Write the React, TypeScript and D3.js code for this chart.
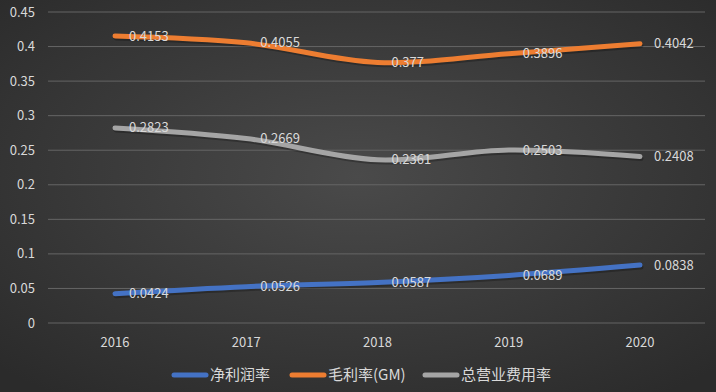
import React, { useEffect, useRef } from 'react';
import * as d3 from 'd3';

const years = ['2016', '2017', '2018', '2019', '2020'];
const netMargin = [0.0424, 0.0526, 0.0587, 0.0689, 0.0838];
const grossMargin = [0.4153, 0.4055, 0.377, 0.3896, 0.4042];
const opexRate = [0.2823, 0.2669, 0.2361, 0.2503, 0.2408];
const yTicks = [0, 0.05, 0.1, 0.15, 0.2, 0.25, 0.3, 0.35, 0.4, 0.45];

const seriesNames = ['净利润率', '毛利率(GM)', '总营业费用率'];
const seriesColors = ['#4472C4', '#ED7D31', '#A5A5A5'];

const W = 716;
const H = 392;

export default function App() {
  const svgRef = useRef<SVGSVGElement>(null);

  useEffect(() => {
    if (!svgRef.current) return;
    const svg = d3.select(svgRef.current);
    svg.selectAll('*').remove();

    const font = '"Noto Sans CJK SC", "Open Sans", sans-serif';
    const textColor = '#d9d9d9';

    // background
    const defs = svg.append('defs');
    const grad = defs
      .append('radialGradient')
      .attr('id', 'bg')
      .attr('cx', '50%')
      .attr('cy', '45%')
      .attr('r', '70%');
    grad.append('stop').attr('offset', '0%').attr('stop-color', '#4a4a4a');
    grad.append('stop').attr('offset', '100%').attr('stop-color', '#2b2b2b');
    svg.append('rect').attr('width', W).attr('height', H).attr('fill', 'url(#bg)');

    const x = d3.scalePoint<string>().domain(years).range([115, 640]);
    const y = d3.scaleLinear().domain([0, 0.45]).range([323, 12]);

    // gridlines
    svg
      .append('g')
      .selectAll('line')
      .data(yTicks)
      .enter()
      .append('line')
      .attr('x1', 48)
      .attr('x2', 705)
      .attr('y1', (d) => y(d))
      .attr('y2', (d) => y(d))
      .attr('stroke', '#656565')
      .attr('stroke-width', 1);

    // y labels
    svg
      .append('g')
      .selectAll('text')
      .data(yTicks)
      .enter()
      .append('text')
      .attr('x', 35)
      .attr('y', (d) => y(d))
      .attr('dy', '0.35em')
      .attr('text-anchor', 'end')
      .attr('fill', textColor)
      .style('font-family', font)
      .style('font-size', '13px')
      .text((d) => String(d));

    // x labels
    svg
      .append('g')
      .selectAll('text')
      .data(years)
      .enter()
      .append('text')
      .attr('x', (d) => x(d) || 0)
      .attr('y', 342)
      .attr('dy', '0.35em')
      .attr('text-anchor', 'middle')
      .attr('fill', textColor)
      .style('font-family', font)
      .style('font-size', '13px')
      .text((d) => d);

    const line = d3
      .line<number>()
      .x((_, i) => x(years[i]) || 0)
      .y((d) => y(d))
      .curve(d3.curveCatmullRom.alpha(0.5));

    const allSeries = [netMargin, grossMargin, opexRate];

    allSeries.forEach((vals, si) => {
      // soft shadow
      svg
        .append('path')
        .datum(vals)
        .attr('d', line)
        .attr('fill', 'none')
        .attr('stroke', 'rgba(0,0,0,0.25)')
        .attr('stroke-width', 5)
        .attr('stroke-linecap', 'round')
        .attr('transform', 'translate(1,2)');
      svg
        .append('path')
        .datum(vals)
        .attr('d', line)
        .attr('fill', 'none')
        .attr('stroke', seriesColors[si])
        .attr('stroke-width', 5)
        .attr('stroke-linecap', 'round');
    });

    allSeries.forEach((vals) => {
      svg
        .append('g')
        .selectAll('text')
        .data(vals)
        .enter()
        .append('text')
        .attr('x', (_, i) => (x(years[i]) || 0) + 14)
        .attr('y', (d) => y(d))
        .attr('dy', '0.35em')
        .attr('fill', textColor)
        .style('font-family', font)
        .style('font-size', '13px')
        .text((d) => String(d));
    });

    // legend
    const legendX = [172, 290, 423];
    const lg = svg.append('g');
    seriesNames.forEach((name, i) => {
      lg.append('line')
        .attr('x1', legendX[i] + 2)
        .attr('x2', legendX[i] + 34)
        .attr('y1', 375)
        .attr('y2', 375)
        .attr('stroke', seriesColors[i])
        .attr('stroke-width', 5)
        .attr('stroke-linecap', 'round');
      lg.append('text')
        .attr('x', legendX[i] + 38)
        .attr('y', 375)
        .attr('dy', '0.35em')
        .attr('fill', textColor)
        .style('font-family', font)
        .style('font-size', '15px')
        .text(name);
    });
  }, []);

  return (
    <div style={{ position: 'absolute', left: 0, top: 0 }}>
      <svg ref={svgRef} width={W} height={H} style={{ display: 'block' }} />
    </div>
  );
}
